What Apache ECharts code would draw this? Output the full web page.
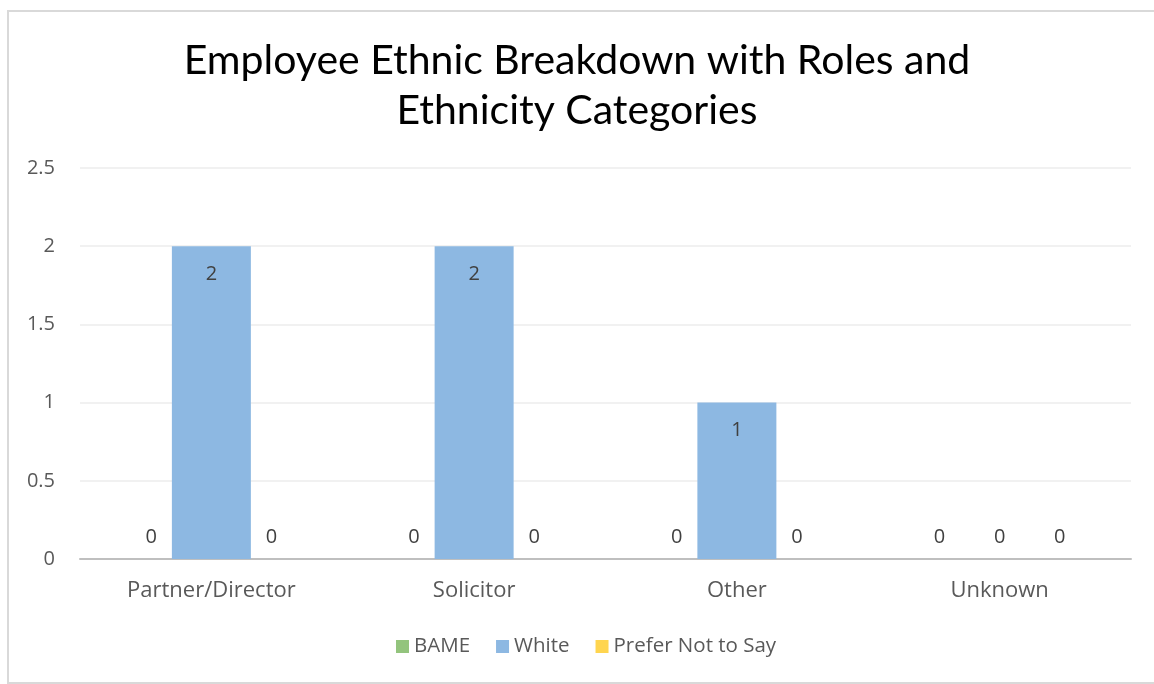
<!DOCTYPE html>
<html>
<head>
<meta charset="utf-8">
<script src="https://cdn.jsdelivr.net/npm/echarts@6/dist/echarts.min.js"></script>
<style>
html,body{margin:0;padding:0;background:#fff;}
#chart{width:1154px;height:684px;}
</style>
</head>
<body>
<div id="chart"></div>
<script>
const categories = ['Partner/Director', 'Solicitor', 'Other', 'Unknown'];
const seriesNames = ['BAME', 'White', 'Prefer Not to Say'];
const bame = [0, 0, 0, 0];
const white = [2, 2, 1, 0];
const preferNot = [0, 0, 0, 0];
const yTicks = [0, 0.5, 1, 1.5, 2, 2.5];
const colors = ['#93c47d', '#8db8e2', '#ffd54f'];

const titleFont = 'Lato, "Open Sans", sans-serif';
const font = '"Open Sans", Lato, sans-serif';

function items(arr) {
  return arr.map(v => ({
    value: v,
    label: v === 0
      ? { position: 'top', distance: 12 }
      : { position: 'insideTop', distance: 18 }
  }));
}

const seriesData = [bame, white, preferNot];
const chart = echarts.init(document.getElementById('chart'));
chart.setOption({
  animation: false,
  backgroundColor: '#fff',
  title: {
    text: 'Employee Ethnic Breakdown with Roles and\nEthnicity Categories',
    left: 'center',
    top: 31,
    textStyle: { fontFamily: titleFont, fontSize: 41, fontWeight: 'normal', color: '#000', lineHeight: 50 }
  },
  graphic: [{
    type: 'rect',
    shape: { x: 8, y: 11, width: 1160, height: 672 },
    style: { fill: 'none', stroke: '#d9d9d9', lineWidth: 2 },
    silent: true
  }],
  legend: {
    bottom: 22,
    left: 391,
    itemWidth: 13,
    itemHeight: 13,
    itemGap: 26,
    icon: 'rect',
    textStyle: { fontFamily: font, fontSize: 20.5, color: '#595959' },
    data: seriesNames
  },
  grid: { left: 80, right: 23, top: 168, bottom: 125, containLabel: false },
  xAxis: {
    type: 'category',
    data: categories,
    axisLine: { lineStyle: { color: '#bfbfbf', width: 2 } },
    axisTick: { show: false },
    axisLabel: { fontFamily: font, fontSize: 22, color: '#595959', margin: 21 }
  },
  yAxis: {
    type: 'value',
    min: yTicks[0],
    max: yTicks[yTicks.length - 1],
    interval: 0.5,
    axisLine: { show: false },
    axisTick: { show: false },
    splitLine: { lineStyle: { color: '#ececec', width: 1.5 } },
    axisLabel: { fontFamily: font, fontSize: 20, color: '#595959', margin: 25 }
  },
  series: seriesNames.map((name, i) => ({
    name: name,
    type: 'bar',
    data: items(seriesData[i]),
    barWidth: 79,
    barGap: '-24%',
    itemStyle: { color: colors[i] },
    label: { show: true, fontFamily: font, fontSize: 20, color: '#404040' }
  }))
});
</script>
</body>
</html>
